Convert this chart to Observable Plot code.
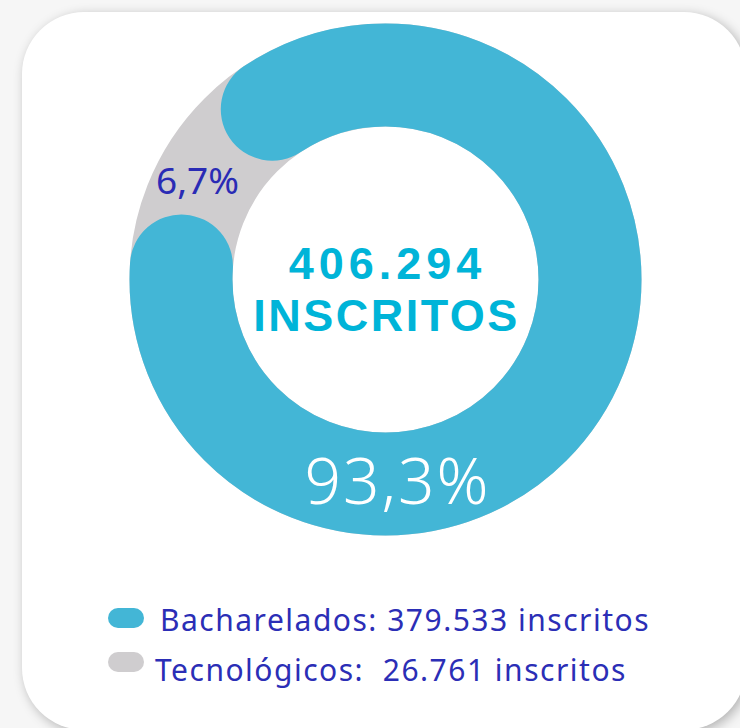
<!DOCTYPE html>
<html>
<head>
<meta charset="utf-8">
<script src="https://cdn.jsdelivr.net/npm/d3@7"></script>
<script src="https://cdn.jsdelivr.net/npm/@observablehq/plot@0.6"></script>
<style>
  html, body { margin: 0; padding: 0; width: 740px; height: 728px; overflow: hidden; background: #f6f6f6; }
  #card { position: absolute; left: 22px; top: 12px; width: 724px; height: 718px; background: #fff;
          border-radius: 62px; box-shadow: 3px 3px 12px rgba(0,0,0,0.28); }
  #chart { position: absolute; left: 0; top: 0; }
  #legend { position: absolute; left: 0; top: 0; width: 740px; font-family: "Noto Sans", sans-serif; color: #2b2eb6; }
  .item { position: absolute; white-space: pre; font-size: 30px; line-height: 1; letter-spacing: 1.5px; }
  .sw { position: absolute; width: 36px; height: 20px; border-radius: 10px; }
</style>
</head>
<body>
<div id="card"></div>
<div id="chart"></div>
<div id="legend"></div>
<script>
// ---- data ----
const categories = ["Bacharelados", "Tecnológicos"];
const inscritos = [379533, 26761];
const shareLabels = ["93,3%", "6,7%"];
const legendLabels = ["Bacharelados: 379.533 inscritos", "Tecnológicos:  26.761 inscritos"];
const totalLabel = ["406.294", "INSCRITOS"];
const colors = ["#43b6d6", "#cfcdcf"];

// ---- geometry of the ring ----
const total = d3.sum(inscritos);
const rMid = 204.5, ringW = 103;
const C = 2 * Math.PI * rMid;
const gapCenterDeg = 300; // clock angle of the grey segment centre
const gapVis = inscritos[1] / total * C;
const cap = ringW / 2;
const d1 = (gapCenterDeg - 90) / 360 * C - gapVis / 2 - cap;
const g = gapVis + ringW;
const d2 = C - d1 - g;

const centerFont = "Liberation Sans, Arial, sans-serif";
const chart = Plot.plot({
  width: 740,
  height: 560,
  marginLeft: 30, marginRight: 0, marginTop: 0, marginBottom: 2,
  style: {background: "transparent", overflow: "visible"},
  marks: [
    Plot.dot([categories[1]], {frameAnchor: "middle", r: rMid, fill: "none", stroke: colors[1], strokeWidth: ringW}),
    Plot.dot([categories[0]], {frameAnchor: "middle", r: rMid, fill: "none", stroke: colors[0], strokeWidth: ringW,
      strokeLinecap: "round", strokeDasharray: `${d1} ${g} ${d2} ${C}`}),
    Plot.text([totalLabel[0]], {text: d => d, frameAnchor: "middle", dx: 2, dy: -15, fontSize: 45, fontWeight: 700,
      fill: "#00b4d8", fontFamily: centerFont, className: "total-num"}),
    Plot.text([totalLabel[1]], {text: d => d, frameAnchor: "middle", dx: 1, dy: 37, fontSize: 45, fontWeight: 700,
      fill: "#00b4d8", fontFamily: centerFont, className: "total-word"}),
    Plot.text([shareLabels[0]], {text: d => d, frameAnchor: "middle", dx: 12, dy: 204, fontSize: 64, fontWeight: 300,
      fill: "#ffffff", fontFamily: "Noto Sans", className: "big-share"}),
    Plot.text([shareLabels[1]], {text: d => d, frameAnchor: "middle", dx: -188, dy: -97, fontSize: 37, fontWeight: 400,
      fill: "#2a2bb5", fontFamily: "Noto Sans"})
  ]
});
d3.select(chart).selectAll(".total-num text").attr("letter-spacing", 5);
d3.select(chart).selectAll(".total-word text").attr("letter-spacing", 2.5);
d3.select(chart).selectAll(".big-share text").attr("letter-spacing", 2);
document.getElementById("chart").appendChild(chart);

// ---- legend ----
const legend = document.getElementById("legend");
const rows = [{sx: 108, sy: 608, tx: 160, ty: 630}, {sx: 108, sy: 652, tx: 155, ty: 680}];
categories.forEach((c, i) => {
  const sw = document.createElement("div");
  sw.className = "sw";
  sw.style.left = rows[i].sx + "px"; sw.style.top = rows[i].sy + "px";
  sw.style.background = colors[i];
  legend.appendChild(sw);
  const t = document.createElement("div");
  t.className = "item";
  t.textContent = legendLabels[i];
  t.style.left = rows[i].tx + "px";
  t.style.top = (rows[i].ty - 25) + "px";
  legend.appendChild(t);
});
</script>
</body>
</html>
